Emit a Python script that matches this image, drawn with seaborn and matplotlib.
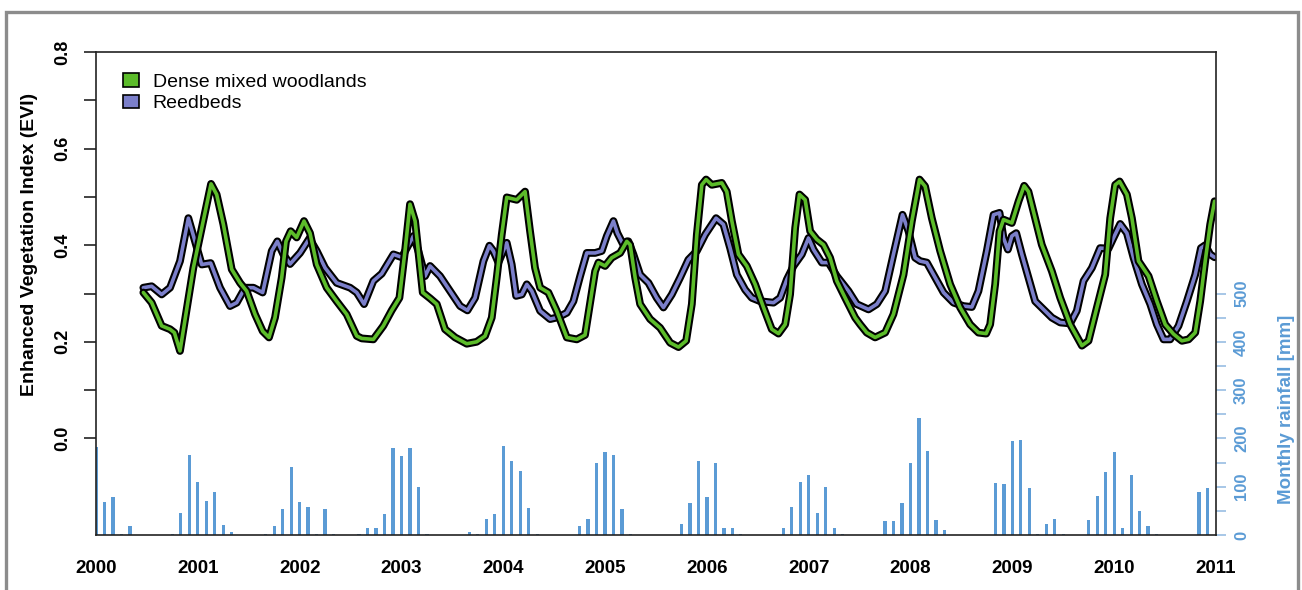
import numpy as np
import matplotlib
matplotlib.use("Agg")
import matplotlib.pyplot as plt
from matplotlib.patches import Patch, Rectangle
import seaborn as sns

sns.set_style("white")
plt.rcParams['font.family'] = ['Liberation Sans', 'DejaVu Sans']
plt.rcParams['text.color'] = 'black'
plt.rcParams['axes.labelcolor'] = 'black'
plt.rcParams['xtick.color'] = 'black'
plt.rcParams['ytick.color'] = 'black'

# EVI, dense mixed woodlands (decimal year, EVI)
wood_year = [2000.465, 2000.547, 2000.645, 2000.727, 2000.770, 2000.825, 2000.956, 2001.130, 2001.185, 2001.251,
             2001.333, 2001.415, 2001.480, 2001.562, 2001.637, 2001.699, 2001.758, 2001.824, 2001.866, 2001.912,
             2001.971, 2002.043, 2002.102, 2002.168, 2002.266, 2002.364, 2002.462, 2002.561, 2002.610, 2002.724,
             2002.822, 2002.904, 2002.980, 2003.035, 2003.084, 2003.134, 2003.209, 2003.281, 2003.347, 2003.428,
             2003.527, 2003.641, 2003.739, 2003.821, 2003.887, 2003.936, 2003.985, 2004.034, 2004.132, 2004.214,
             2004.263, 2004.312, 2004.362, 2004.443, 2004.525, 2004.624, 2004.722, 2004.803, 2004.853, 2004.902,
             2004.935, 2005.000, 2005.065, 2005.148, 2005.213, 2005.246, 2005.295, 2005.344, 2005.442, 2005.540,
             2005.639, 2005.721, 2005.796, 2005.852, 2005.901, 2005.950, 2005.992, 2006.048, 2006.146, 2006.195,
             2006.245, 2006.310, 2006.392, 2006.474, 2006.556, 2006.637, 2006.703, 2006.769, 2006.817, 2006.867,
             2006.909, 2006.965, 2007.014, 2007.079, 2007.145, 2007.210, 2007.276, 2007.358, 2007.456, 2007.505,
             2007.570, 2007.652, 2007.751, 2007.832, 2007.931, 2008.013, 2008.088, 2008.143, 2008.209, 2008.291,
             2008.389, 2008.487, 2008.585, 2008.667, 2008.743, 2008.782, 2008.831, 2008.874, 2008.913, 2008.995,
             2009.061, 2009.116, 2009.158, 2009.224, 2009.289, 2009.388, 2009.470, 2009.568, 2009.683, 2009.748,
             2009.830, 2009.912, 2009.961, 2010.010, 2010.053, 2010.125, 2010.174, 2010.239, 2010.338, 2010.419,
             2010.501, 2010.583, 2010.665, 2010.730, 2010.796, 2010.845, 2010.894, 2010.943, 2010.986]
wood_evi = [0.302, 0.281, 0.233, 0.226, 0.219, 0.181, 0.353, 0.527, 0.505, 0.443,
            0.350, 0.322, 0.305, 0.257, 0.222, 0.209, 0.250, 0.333, 0.408, 0.429,
            0.416, 0.450, 0.425, 0.360, 0.312, 0.284, 0.257, 0.212, 0.207, 0.205,
            0.233, 0.265, 0.291, 0.388, 0.485, 0.450, 0.302, 0.290, 0.278, 0.226,
            0.209, 0.196, 0.200, 0.212, 0.250, 0.333, 0.422, 0.499, 0.494, 0.511,
            0.429, 0.353, 0.312, 0.302, 0.264, 0.209, 0.205, 0.214, 0.281, 0.346,
            0.364, 0.357, 0.374, 0.384, 0.408, 0.401, 0.333, 0.278, 0.247, 0.229,
            0.198, 0.189, 0.202, 0.278, 0.422, 0.525, 0.536, 0.525, 0.529, 0.511,
            0.450, 0.381, 0.357, 0.319, 0.271, 0.226, 0.217, 0.236, 0.298, 0.436,
            0.505, 0.494, 0.429, 0.412, 0.401, 0.374, 0.326, 0.291, 0.250, 0.236,
            0.219, 0.209, 0.219, 0.257, 0.339, 0.450, 0.536, 0.522, 0.456, 0.388,
            0.319, 0.271, 0.236, 0.219, 0.217, 0.236, 0.319, 0.429, 0.453, 0.446,
            0.491, 0.523, 0.511, 0.456, 0.401, 0.346, 0.291, 0.236, 0.192, 0.202,
            0.271, 0.339, 0.456, 0.525, 0.532, 0.505, 0.456, 0.367, 0.336, 0.284,
            0.236, 0.216, 0.202, 0.205, 0.219, 0.284, 0.367, 0.443, 0.491]

# EVI, reedbeds
reed_year = [2000.465, 2000.547, 2000.645, 2000.727, 2000.825, 2000.907, 2000.972, 2001.038, 2001.126, 2001.218,
             2001.316, 2001.382, 2001.464, 2001.546, 2001.637, 2001.726, 2001.781, 2001.840, 2001.906, 2002.004,
             2002.096, 2002.168, 2002.250, 2002.364, 2002.495, 2002.561, 2002.633, 2002.724, 2002.806, 2002.921,
             2003.003, 2003.117, 2003.166, 2003.232, 2003.281, 2003.379, 2003.477, 2003.576, 2003.648, 2003.723,
             2003.805, 2003.864, 2003.903, 2003.952, 2004.034, 2004.083, 2004.126, 2004.182, 2004.231, 2004.280,
             2004.362, 2004.460, 2004.542, 2004.624, 2004.689, 2004.755, 2004.820, 2004.902, 2004.967, 2005.017,
             2005.082, 2005.121, 2005.174, 2005.229, 2005.278, 2005.344, 2005.426, 2005.507, 2005.573, 2005.655,
             2005.737, 2005.818, 2005.901, 2005.983, 2006.090, 2006.162, 2006.228, 2006.294, 2006.375, 2006.441,
             2006.523, 2006.654, 2006.719, 2006.785, 2006.851, 2006.932, 2006.998, 2007.047, 2007.129, 2007.194,
             2007.276, 2007.391, 2007.472, 2007.587, 2007.669, 2007.751, 2007.832, 2007.921, 2007.980, 2008.045,
             2008.095, 2008.160, 2008.242, 2008.324, 2008.422, 2008.520, 2008.602, 2008.667, 2008.749, 2008.815,
             2008.874, 2008.913, 2008.956, 2008.995, 2009.038, 2009.093, 2009.158, 2009.224, 2009.306, 2009.388,
             2009.470, 2009.568, 2009.633, 2009.699, 2009.781, 2009.862, 2009.944, 2009.993, 2010.059, 2010.125,
             2010.190, 2010.272, 2010.354, 2010.419, 2010.485, 2010.550, 2010.632, 2010.714, 2010.796, 2010.852,
             2010.894, 2010.943, 2010.986]
reed_evi = [0.312, 0.315, 0.298, 0.312, 0.367, 0.456, 0.408, 0.360, 0.363, 0.312,
            0.274, 0.281, 0.312, 0.312, 0.302, 0.388, 0.408, 0.381, 0.361, 0.384,
            0.414, 0.388, 0.353, 0.322, 0.312, 0.302, 0.278, 0.326, 0.341, 0.381,
            0.375, 0.419, 0.388, 0.336, 0.357, 0.336, 0.305, 0.274, 0.265, 0.291,
            0.367, 0.399, 0.388, 0.364, 0.405, 0.360, 0.295, 0.298, 0.319, 0.305,
            0.264, 0.247, 0.251, 0.260, 0.284, 0.336, 0.384, 0.384, 0.388, 0.419,
            0.450, 0.425, 0.403, 0.408, 0.381, 0.339, 0.322, 0.291, 0.271, 0.298,
            0.333, 0.370, 0.388, 0.422, 0.456, 0.443, 0.394, 0.339, 0.308, 0.291,
            0.284, 0.281, 0.291, 0.329, 0.357, 0.381, 0.415, 0.391, 0.364, 0.364,
            0.336, 0.305, 0.278, 0.267, 0.278, 0.305, 0.381, 0.463, 0.429, 0.374,
            0.367, 0.364, 0.333, 0.302, 0.281, 0.274, 0.272, 0.305, 0.388, 0.463,
            0.467, 0.415, 0.391, 0.419, 0.425, 0.381, 0.333, 0.284, 0.267, 0.250,
            0.240, 0.238, 0.264, 0.326, 0.353, 0.394, 0.393, 0.415, 0.444, 0.425,
            0.374, 0.319, 0.278, 0.236, 0.205, 0.205, 0.233, 0.284, 0.339, 0.394,
            0.400, 0.381, 0.375]

# Monthly rainfall [mm], Jan 2000 - Dec 2010
rain_mm = [183, 69, 78, 3, 19, 1, 1, 1, 1, 2, 45, 166,       # 2000
           110, 71, 88, 21, 7, 1, 1, 1, 2, 19, 53, 140,      # 2001
           69, 59, 3, 53, 2, 1, 1, 2, 14, 14, 43, 180,       # 2002
           164, 180, 100, 3, 1, 1, 1, 1, 6, 3, 34, 43,       # 2003
           185, 154, 133, 55, 2, 1, 1, 1, 1, 19, 34, 149,    # 2004
           171, 165, 53, 3, 1, 1, 1, 1, 1, 22, 66, 154,      # 2005
           78, 149, 14, 14, 3, 1, 1, 1, 1, 14, 57, 110,      # 2006
           124, 45, 100, 14, 2, 1, 1, 1, 1, 28, 28, 66,      # 2007
           150, 243, 173, 32, 10, 1, 1, 1, 1, 1, 108, 106,   # 2008
           195, 197, 97, 3, 22, 33, 2, 1, 1, 31, 81, 130,    # 2009
           171, 14, 124, 50, 19, 2, 1, 1, 1, 1, 89, 97]      # 2010
rain_start = 2000

years = list(range(2000, 2012))
evi_ticks = [0.0, 0.1, 0.2, 0.3, 0.4, 0.5, 0.6, 0.7, 0.8]
rain_ticks = list(range(0, 501, 50))

green = "#5cbc2a"
purple = "#7b7fca"
rain_blue = "#5b9bd5"

W, H = 1302, 590
fig = plt.figure(figsize=(W / 100, H / 100), dpi=100)
ax = fig.add_axes([96 / W, 1 - 535 / H, 1120 / W, 483 / H])
ax2 = ax.twinx()

# rainfall bars on the right axis
month_pos = rain_start + np.arange(len(rain_mm)) / 12
ax2.bar(month_pos, rain_mm, width=0.032, color=rain_blue, linewidth=0, zorder=1)
ax2.set_ylim(0, 1000)
ax2.set_yticks(rain_ticks)
ax2.set_yticklabels([str(v) if v % 100 == 0 else "" for v in rain_ticks])
ax2.tick_params(axis="y", direction="out", length=7, width=1.1, color="#8fb8e0",
                labelcolor=rain_blue, labelsize=12, pad=6, labelrotation=90)
for lbl in ax2.get_yticklabels():
    lbl.set_fontweight("bold")
    lbl.set_va("center")
ax2.set_ylabel("Monthly rainfall [mm]", color=rain_blue, fontsize=13.5, fontweight="bold")
ax2.yaxis.set_label_coords(1.055, 0.26)
for s in ax2.spines.values():
    s.set_visible(False)

# EVI lines: black outline, coloured core
ax.set_zorder(ax2.get_zorder() + 1)
ax.patch.set_visible(False)
for yr, ev, col in [(reed_year, reed_evi, purple), (wood_year, wood_evi, green)]:
    sns.lineplot(x=yr, y=ev, ax=ax, color="black", linewidth=5.6, sort=False, estimator=None,
                 solid_joinstyle="round", solid_capstyle="round")
    sns.lineplot(x=yr, y=ev, ax=ax, color=col, linewidth=2.6, sort=False, estimator=None,
                 solid_joinstyle="round", solid_capstyle="round")

ax.set_xlim(2000, 2011)
ax.set_ylim(-0.2, 0.8)
ax.set_xticks(years)
ax.set_xticklabels([str(y) for y in years], fontsize=13.5, fontweight="bold")
ax.set_yticks(evi_ticks)
ax.set_yticklabels(["%.1f" % v if round(v * 10) % 2 == 0 else "" for v in evi_ticks])
ax.tick_params(axis="x", direction="out", length=9, width=1.2, color="#222222", pad=9)
ax.tick_params(axis="y", direction="out", length=8.5, width=1.2, color="#222222",
               labelsize=13, pad=9, labelrotation=90)
for lbl in ax.get_yticklabels():
    lbl.set_fontweight("bold")
    lbl.set_va("center")
ax.set_xlabel("")
ax.set_ylabel("Enhanced Vegetation Index (EVI)", fontsize=14, fontweight="bold")
ax.yaxis.set_label_coords(-0.052, 0.602)
for s in ax.spines.values():
    s.set_visible(True)
    s.set_color("#222222")
    s.set_linewidth(1.2)

handles = [Patch(facecolor=green, edgecolor="black", linewidth=1.2, label="Dense mixed woodlands"),
           Patch(facecolor=purple, edgecolor="black", linewidth=1.2, label="Reedbeds")]
ax.legend(handles=handles, loc="upper left", bbox_to_anchor=(0.014, 0.98), frameon=False,
          fontsize=14, handlelength=0.8, handleheight=0.7, handletextpad=0.7,
          labelspacing=0.2, borderaxespad=0.2, labelcolor="black")

# grey frame around the figure
fig.patches.append(Rectangle((6 / W, -0.02), 1292 / W, 1 - 12 / H + 0.02, transform=fig.transFigure,
                             fill=False, edgecolor="#8c8c8c", linewidth=2.4))

fig.savefig("out.png", dpi=100)
